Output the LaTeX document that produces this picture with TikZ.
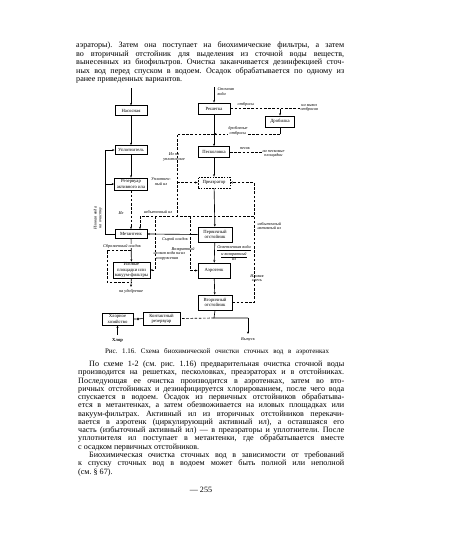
\documentclass[tikz,border=0pt]{standalone}
\usepackage{fontspec}
\setmainfont{Liberation Serif}
\usetikzlibrary{arrows.meta}
\newcommand\jl[1]{\makebox[268pt][s]{#1}}
\frenchspacing
\begin{document}
\frenchspacing
\begin{tikzpicture}[x=1pt,y=-1pt,
  box/.style={draw,line width=0.8pt,inner sep=0.5pt,align=center,font=\fontsize{4.7}{5.1}\selectfont},
  dbox/.style={box,dash pattern=on 1.6pt off 1.2pt},
  lbl/.style={inner sep=0.3pt,align=center,font=\fontsize{4.3}{4.7}\selectfont\itshape},
  ln/.style={line width=0.65pt},
  dl/.style={line width=0.65pt,dash pattern=on 2.6pt off 1.6pt},
  arr/.style={-{Stealth[length=2.4pt,width=2pt]}},
  txt/.style={anchor=base west,inner sep=0pt,font=\fontsize{8.1}{8.3}\selectfont},
]
\useasboundingbox[fill=white] (0,0) rectangle (450,557);

% ---------- text above the figure ----------
\node[txt] (t1) at (76,47.5) {\jl{аэраторы). Затем она поступает на биохимические фильтры, а затем}};
\node[txt] (t2) at (76,56) {\jl{во вторичный отстойник для выделения из сточной воды веществ,}};
\node[txt] (t3) at (76,64.5) {\jl{вынесенных из биофильтров. Очистка заканчивается дезинфекцией сточ-}};
\node[txt] (t4) at (76,73) {\jl{ных вод перед спуском в водоем. Осадок обрабатывается по одному из}};
\node[txt] (t5) at (76,81.5) {ранее приведенных вариантов.};

% ---------- boxes ----------
\node[box,minimum width=32pt,minimum height=9.5pt] (l1) at (131,110.5) {Насосная};
\node[box,minimum width=32pt,minimum height=9pt] (l2) at (131,150) {Уплотнитель};
\node[box,minimum width=33pt,minimum height=12pt] (l3) at (131,184) {Резервуар\\активного ила};
\node[box,minimum width=32pt,minimum height=9pt] (l4) at (131,234) {Метантенк};
\node[box,minimum width=37pt,minimum height=16pt] (l5) at (131.5,270) {Иловые\\площадки или\\вакуум-фильтры};

\node[box,minimum width=32pt,minimum height=11pt] (c1) at (214,108.5) {Решетка};
\node[box,minimum width=29pt,minimum height=11pt] (c2) at (280,121.5) {Дробилка};
\node[box,minimum width=31pt,minimum height=11pt] (c3) at (214,152) {Песколовка};
\node[dbox,minimum width=32pt,minimum height=11pt] (c4) at (214,182.5) {Преаэратор};
\node[box,minimum width=34pt,minimum height=15pt] (c5) at (215,234.5) {Первичный\\отстойник};
\node[box,minimum width=32pt,minimum height=15pt] (c6) at (214,270.5) {Аэротенк};
\node[box,minimum width=34pt,minimum height=15pt] (c7) at (215,302.5) {Вторичный\\отстойник};

\node[box,minimum width=31pt,minimum height=12pt] (b1) at (117.5,319) {Хлорное\\хозяйство};
\node[box,minimum width=37pt,minimum height=13pt] (b2) at (161.5,318.5) {Контактный\\резервуар};
\node[circle,draw,line width=0.6pt,inner sep=0.7pt] (cc) at (138,319) {};

% ---------- coordinates ----------
\coordinate (in1) at (214,87);
\coordinate (in2) at (131,88);
\coordinate (o1) at (300,108.5);
\coordinate (j1) at (280,134);
\coordinate (j2) at (214,134);
\coordinate (j3) at (177,134);
\coordinate (j4) at (177,216);
\coordinate (j5) at (140,216);
\coordinate (j6) at (254,216);
\coordinate (j9) at (155,216);
\coordinate (j10) at (190,216);
\coordinate (s1) at (262,152);
\coordinate (j12) at (214,318);
\coordinate (o2) at (248,318);
\coordinate (o3) at (248,334);
\coordinate (k1) at (105,234);
\coordinate (k2) at (105,150);
\coordinate (k3) at (105,184);
\coordinate (f1) at (131,287);
\coordinate (h1) at (117.5,335);
\coordinate (p1) at (131,250);
\coordinate (p2) at (107,250);
\coordinate (p3) at (107,282);
\coordinate (p4) at (131,282);

% ---------- connectors ----------
\draw[ln,arr] (in1) -- (c1);
\draw[ln,arr] (c1) -- (c3);
\draw[dl] (c1.east) -- (o1);
\draw[ln,arr] (c1.east -| c2) -- (c2.north);
\draw[ln] (c2.south) -- (j1);
\draw[dl,arr] (j1) -- (j2);
\draw[dl] (j2) -- (j3) -- (j4);
\draw[dl,arr] (j3 |- c4.west) -- (c4.west);
\draw[dl] (c3.east) -- (s1);
\draw[ln,arr] (c3) -- (c4);
\draw[ln,arr] (c4) -- (c5);
\draw[ln,arr] (c5) -- (c6);
\draw[ln,arr] (c6) -- (c7);
\draw[dl,arr] (c7.east) -- (c7.east -| j6) -- (c4.east -| j6) -- (c4.east);
\draw[dl] (j6) -- (j5);
\draw[dl,arr] (j5) -- (j5 |- l4.north);
\draw[dl,arr] (j9) -- (j9 |- l5.east) -- (l5.east);
\draw[dl,arr] (j10) -- (j10 |- c6.west) -- (c6.west);
\draw[ln,arr] (c5.west) -- (l4.east);
\draw[ln] (c7.south) -- (j12) -- (o2);
\draw[ln,arr] (o2) -- (o3);
\draw[dl] (j12) -- (b2.east);
\draw[ln] (b1.east) -- (cc) -- (b2.west);
\draw[ln,arr] (h1) -- (b1.south);

\draw[ln,arr] (in2) -- (l1.north);
\draw[ln,arr] (l1) -- (l2);
\draw[ln,arr] (l2) -- (l3);
\draw[dl,arr] (l3) -- (l4);
\draw[ln,arr] (l4) -- (l5);
\draw[ln,arr] (l5) -- (f1);
\draw[dl] (p1) -- (p2) -- (p3) -- (p4);
\draw[ln,arr] (l4.west) -- (k1) -- (k2) -- (l2.west);
\draw[ln,arr] (k3) -- (l3.west);

% ---------- labels ----------
\node[lbl,align=left,anchor=west] (n1) at (217,91.5) {Сточная\\вода};
\node[lbl,fill=white] (n2) at (246,104.5) {отбросы};
\node[lbl,anchor=west] (n3) at (300,108) {на вывоз\\отбросов};
\node[lbl,fill=white] (n4) at (238,131) {дробленые\\отбросы};
\node[lbl] (n5) at (245,148.5) {песок};
\node[lbl,anchor=west] (n6) at (262,154) {на песковые\\площадки};
\node[lbl,anchor=west] (n7) at (257,226) {избыточный\\активный ил};
\node[lbl] (n8) at (234,253.5) {\underline{Осветленная вода}\\\underline{и возвратный}\\ил};
\node[lbl] (n9) at (257,278) {Иловая\\смесь};
\node[lbl] (n10) at (248,339.5) {Выпуск};
\node[lbl] (n11) at (174,157) {Ил на\\уплотнение};
\node[lbl] (n12) at (161,181.5) {Уплотнен-\\ный ил};
\node[lbl] (n13) at (121,213) {Ил};
\node[lbl] (n14) at (158,212) {избыточный ил};
\node[lbl] (n15) at (175,239.5) {Сырой осадок};
\node[lbl] (n16) at (183,251) {Возвратный\\ил};
\node[lbl,fill=white] (n17) at (122,246) {Сброженный осадок};
\node[lbl] (n18) at (167,256) {иловая вода на\\сооружения};
\node[lbl] (n19) at (131,291.5) {на удобрение};
\node[lbl,font=\fontsize{4.6}{5}\selectfont\bfseries] (n20) at (117.5,340.5) {Хлор};
\node[lbl,rotate=90] (n21) at (98,218) {Иловая вода\\на очистку};

% ---------- caption ----------
\node[inner sep=0pt,font=\fontsize{7}{7.5}\selectfont] (cap) at (217,352)
  {\makebox[224pt][s]{Рис. 1.16. Схема биохимической очистки сточных вод в аэротенках}};

% ---------- text below the figure ----------
\node[txt] (u1) at (78,366.5) {\makebox[266pt][s]{\hspace*{11pt}По схеме 1-2 (см. рис. 1.16) предварительная очистка сточной воды}};
\node[txt] (u2) at (78,374.75) {\makebox[266pt][s]{производится на решетках, песколовках, преаэраторах и в отстойниках.}};
\node[txt] (u3) at (78,383) {\makebox[266pt][s]{Последующая ее очистка производится в аэротенках, затем во вто-}};
\node[txt] (u4) at (78,391.25) {\makebox[266pt][s]{ричных отстойниках и дезинфицируется хлорированием, после чего вода}};
\node[txt] (u5) at (78,399.5) {\makebox[266pt][s]{спускается в водоем. Осадок из первичных отстойников обрабатыва-}};
\node[txt] (u6) at (78,407.75) {\makebox[266pt][s]{ется в метантенках, а затем обезвоживается на иловых площадках или}};
\node[txt] (u7) at (78,416) {\makebox[266pt][s]{вакуум-фильтрах. Активный ил из вторичных отстойников перекачи-}};
\node[txt] (u8) at (78,424.25) {\makebox[266pt][s]{вается в аэротенк (циркулирующий активный ил), а оставшаяся его}};
\node[txt] (u9) at (78,432.5) {\makebox[266pt][s]{часть (избыточный активный ил) — в преаэраторы и уплотнители. После}};
\node[txt] (u10) at (78,440.75) {\makebox[266pt][s]{уплотнителя ил поступает в метантенки, где обрабатывается вместе}};
\node[txt] (u11) at (78,449) {с осадком первичных отстойников.};

\node[txt] (v1) at (78,457.5) {\makebox[266pt][s]{\hspace*{11pt}Биохимическая очистка сточных вод в зависимости от требований}};
\node[txt] (v2) at (78,465.75) {\makebox[266pt][s]{к спуску сточных вод в водоем может быть полной или неполной}};
\node[txt] (v3) at (78,474) {(см. § 67).};

\node[inner sep=0pt,font=\fontsize{8.1}{8.3}\selectfont] (pg) at (201,490) {— 255};
\end{tikzpicture}
\end{document}
